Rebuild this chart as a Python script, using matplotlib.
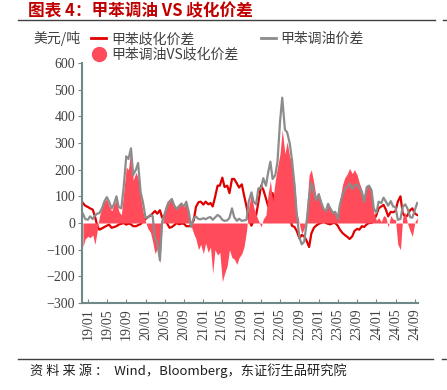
import matplotlib
matplotlib.use("Agg")
import numpy as np
import pandas as pd
import matplotlib.pyplot as plt
from matplotlib.lines import Line2D

plt.rcParams['font.family'] = ['Noto Sans CJK SC', 'DejaVu Sans']

# semi-monthly observations, 2018-12-01 .. 2024-09-15
dates = pd.date_range('2018-12-01', periods=140, freq='SMS')

# 甲苯歧化价差 (USD/t)
disproportionation = [
    75, 65, 60, 55, 50, 25, -10, -25, -20, -15,
    -10, -6, -18, -15, -12, -6, -3, 0, -6, -2,
    -5, -12, -12, -8, -4, 6, 15, 22, 27, 36,
    45, 35, 48, 20, 30, 0, -18, -15, -8, 0,
    -5, -2, -3, -12, -12, -8, 10, 60, 78, 80,
    69, 80, 70, 75, 62, 95, 140, 140, 170, 135,
    140, 112, 165, 165, 148, 133, 145, 105, 62, 15,
    -10, 8, 30, 78, 140, 125, 92, 62, 100, 112,
    40, 30, 100, 110, 90, 50, 30, -10, -15, -30,
    -58, -45, -50, -65, -90, -40, -18, -10, -3, 0,
    5, 0, -3, -5, 0, 0, -10, -25, -38, -45,
    -52, -60, -50, -30, -22, -25, -12, -15, -5, 0,
    0, 10, 30, 55, 62, 68, 50, 25, 42, 40,
    45, 80, 100, 38, 22, 28, 48, 55, 35, 30,
]

# 甲苯调油价差 (USD/t)
blending = [
    35, 15, 12, 25, 15, 28, 35, 37, 55, 80,
    97, 80, 55, 70, 100, 60, 55, 130, 250, 240,
    280, 180, 200, 225, 115, 80, 20, 20, 31, 25,
    -60, -70, -140, 5, 35, 60, 80, 90, 65, 52,
    64, 73, 62, 80, 40, -15, 19, 24, 15, 14,
    18, 14, 20, 22, 12, 20, 30, 25, 12, 8,
    10, 19, 55, 22, 8, 16, 8, 10, 12, 80,
    115, 80, 70, 130, 130, 168, 140, 190, 230, 165,
    180, 230, 380, 470, 350, 340, 300, 240, 140, 30,
    -55, -80, -70, -5, 100, 150, 118, 85, 108, 80,
    52, 45, 72, 55, 38, 42, 15, 70, 105, 128,
    135, 148, 128, 140, 145, 130, 115, 80, 135, 140,
    123, 55, 38, 80, 75, 95, 80, 65, 82, 62,
    60, 12, 15, 60, 70, 55, 22, 20, 50, 75,
]

# 甲苯调油VS歧化价差 (USD/t)
spread_diff = [
    -90, -60, -50, -55, -45, -80, -30, 25, 60, 80,
    90, 65, 45, 70, 85, 45, 30, 110, 210, 200,
    285, 160, 190, 170, 100, 45, 5, -20, -35, -70,
    -115, -95, -150, -10, 55, 80, 90, 95, 70, 60,
    70, 75, 60, 75, 40, -10, -40, -60, -100, -80,
    -115, -75, -110, -90, -190, -100, -120, -110, -220, -190,
    -160, -100, -130, -135, -155, -130, -115, -90, -30, 60,
    110, 60, 30, 10, -15, 15, 30, 110, 160, 80,
    160, 210, 260, 350, 260, 305, 250, 225, 155, 45,
    -5, -40, -20, 40, 180, 200, 150, 100, 115, 85,
    50, 45, 70, 55, 42, 45, 30, 90, 145, 170,
    185, 205, 185, 200, 180, 150, 125, 90, 140, 140,
    125, 40, 10, 20, 5, 28, 22, -15, 28, 15,
    12, -80, -100, 20, 40, 0, -30, -50, 5, 20,
]

tick_dates = pd.date_range('2019-01-01', '2024-09-01', freq='4MS')
tick_labels = [d.strftime('%y/%m') for d in tick_dates]

red = '#E00000'
grey = '#8C8C8C'
pink = '#FF4B5A'
axis_col = '#6F8888'
txt = '#404040'

fig = plt.figure(figsize=(4.47, 3.90), dpi=100)
ax = fig.add_axes([82/447, 1-303/390, (418-82)/447, (303-63)/390])

ax.plot(dates, disproportionation, color=red, lw=1.6, zorder=1)
ax.fill_between(dates, 0, spread_diff, color=pink, lw=0, zorder=2)
ax.plot(dates, blending, color=grey, lw=1.6, zorder=3)

ax.set_ylim(-300, 600)
ax.set_yticks(np.arange(-300, 601, 100))
ax.set_xlim(pd.Timestamp('2018-11-25'), pd.Timestamp('2024-09-20'))
ax.set_xticks(tick_dates)
ax.set_xticklabels(tick_labels, rotation=90, family='Liberation Serif',
                   fontsize=10, color=txt)
for lab in ax.get_yticklabels():
    lab.set_family('Liberation Serif')
ax.tick_params(axis='y', direction='out', length=3, color=axis_col,
               labelsize=10, labelcolor=txt, pad=2)
ax.tick_params(axis='x', direction='in', length=3, color=axis_col, pad=4)
for s in ['top', 'right']:
    ax.spines[s].set_visible(False)
for s in ['left', 'bottom']:
    ax.spines[s].set_color(axis_col)
    ax.spines[s].set_linewidth(1.5)

# legend
handles = [
    Line2D([], [], color=red, lw=2),
    Line2D([], [], marker='o', ls='', color=pink, markersize=10),
    Line2D([], [], color=grey, lw=2),
]
labels = ['甲苯歧化价差', '甲苯调油VS歧化价差', '甲苯调油价差']
fig.legend(handles, labels, ncol=2, loc='upper left',
           bbox_to_anchor=(91/447, 1-32/390), frameon=False,
           borderpad=0, borderaxespad=0, handlelength=1.1,
           handletextpad=0.35, columnspacing=1.6, labelspacing=0.1,
           prop={'family': ['Noto Sans CJK SC', 'DejaVu Sans'], 'size': 10},
           labelcolor=txt)
fig.text(33/447, 1-39/390, '美元/吨', fontsize=10, color=txt, va='center')

# title, rules and source
fig.text(28/447, 1-11/390, '图表 4：甲苯调油 VS 歧化价差', fontsize=12,
         fontweight='bold', color='#C00000', va='center')
fig.add_artist(Line2D([18/447, 435/447], [1-20/390, 1-20/390],
                      color='#404040', lw=1))
fig.add_artist(Line2D([443/447, 1], [1-20/390, 1-20/390],
                      color='#404040', lw=1))
fig.add_artist(Line2D([18/447, 433/447], [1-359/390, 1-359/390],
                      color='#404040', lw=1))
fig.add_artist(Line2D([442/447, 1], [1-359/390, 1-359/390],
                      color='#404040', lw=1))
fig.text(30/447, 1-371/390, '资 料 来 源 ：  Wind，Bloomberg，东证衍生品研究院',
         fontsize=9.5, color='#202020', va='center')

fig.savefig('out.png', dpi=100)
